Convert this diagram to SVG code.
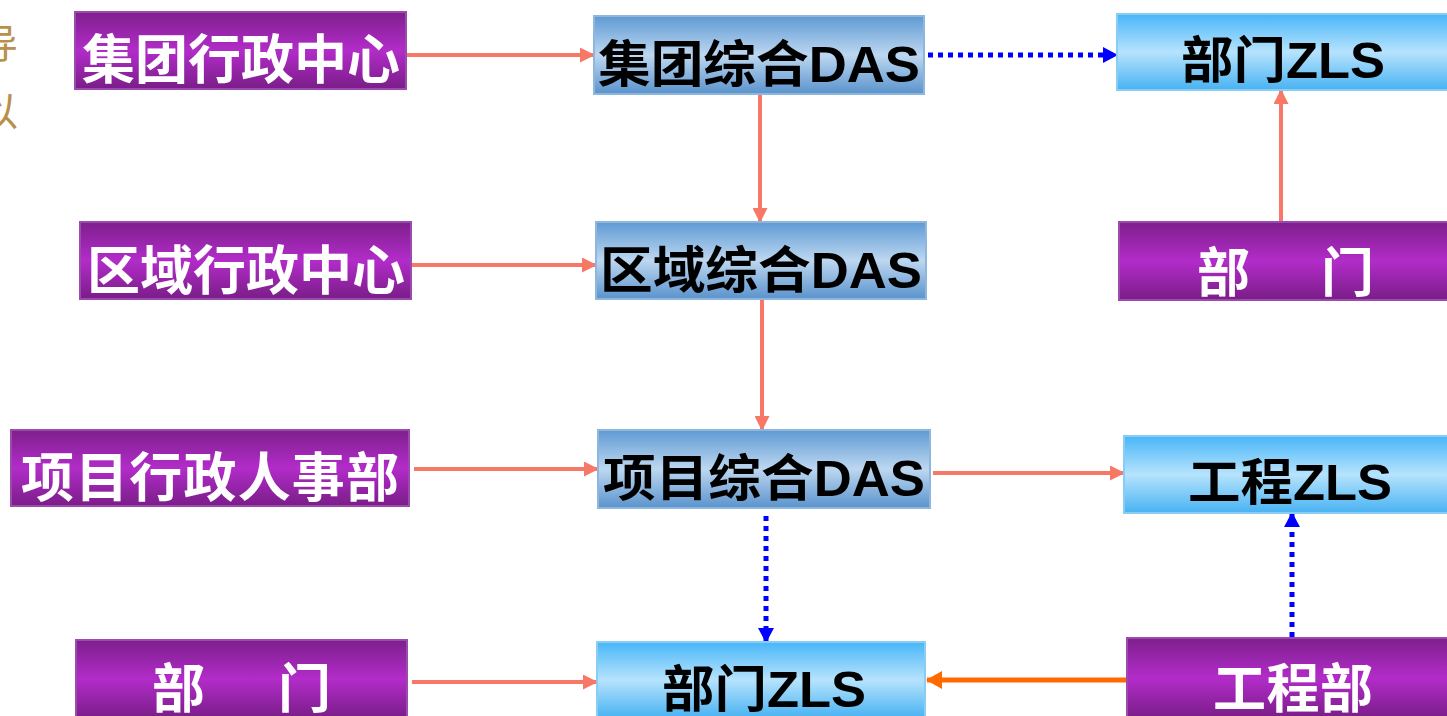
<svg xmlns="http://www.w3.org/2000/svg" width="1447" height="716" viewBox="0 0 1447 716">
<defs>
<linearGradient id="gp" x1="0" y1="0" x2="0" y2="1">
<stop offset="0" stop-color="#7E1F8C"/><stop offset="0.5" stop-color="#B22CC9"/><stop offset="1" stop-color="#7A1D88"/>
</linearGradient>
<linearGradient id="gb" x1="0" y1="0" x2="0" y2="1">
<stop offset="0" stop-color="#5E9AD4"/><stop offset="0.5" stop-color="#BDD7F0"/><stop offset="1" stop-color="#5A93CC"/>
</linearGradient>
<linearGradient id="gs" x1="0" y1="0" x2="0" y2="1">
<stop offset="0" stop-color="#48B6F8"/><stop offset="0.5" stop-color="#B6E3FD"/><stop offset="1" stop-color="#48B2F2"/>
</linearGradient>
<marker id="ar" markerWidth="15" markerHeight="15" refX="14" refY="7.5" orient="auto" markerUnits="userSpaceOnUse" viewBox="0 0 15 15">
<path d="M0,0 L15,7.5 L0,15 Z" fill="#F87868"/>
</marker>
<marker id="ab" markerWidth="15" markerHeight="16" refX="14" refY="8" orient="auto" markerUnits="userSpaceOnUse" viewBox="0 0 15 16">
<path d="M0,0 L15,8 L0,16 Z" fill="#0000FF"/>
</marker>
<marker id="ao" markerWidth="16" markerHeight="18" refX="15" refY="9" orient="auto" markerUnits="userSpaceOnUse" viewBox="0 0 16 18">
<path d="M0,0 L16,9 L0,18 Z" fill="#FF6A00"/>
</marker>
</defs>
<style>
.p{fill:url(#gp);stroke:#9B4BAE;stroke-width:2}
.b{fill:url(#gb);stroke:#8FB6DD;stroke-width:2}
.s{fill:url(#gs);stroke:#8ACDF2;stroke-width:2}
.tw{font-family:"Noto Sans CJK SC","Liberation Sans",sans-serif;font-weight:bold;font-size:53px;fill:#FFFFFF}
.tk{font-family:"Liberation Sans","Noto Sans CJK SC",sans-serif;font-weight:bold;font-size:50px;fill:#000000}
.r{stroke:#F87868;stroke-width:4;fill:none}
.d{stroke:#0000FF;stroke-width:5;stroke-dasharray:5 5;fill:none}
.side{font-family:"Noto Sans CJK SC",sans-serif;font-size:40px;fill:#B8904A}
</style>
<g id="side">
<text class="side" x="-22" y="58">导</text>
<text class="side" x="-22" y="126">以</text>
</g>
<g id="connectors">
<line class="r" x1="407" y1="55" x2="594" y2="55" marker-end="url(#ar)"/>
<line class="d" x1="928" y1="55" x2="1117" y2="55" marker-end="url(#ab)"/>
<line class="r" x1="760" y1="95" x2="760" y2="222" marker-end="url(#ar)"/>
<line class="r" x1="1281" y1="221" x2="1281" y2="90" marker-end="url(#ar)"/>
<line class="r" x1="412" y1="265" x2="596" y2="265" marker-end="url(#ar)"/>
<line class="r" x1="762" y1="300" x2="762" y2="430" marker-end="url(#ar)"/>
<line class="r" x1="414" y1="469" x2="598" y2="469" marker-end="url(#ar)"/>
<line class="r" x1="933" y1="473" x2="1124" y2="473" marker-end="url(#ar)"/>
<line class="d" x1="766" y1="516" x2="766" y2="642" marker-end="url(#ab)"/>
<line class="d" x1="1292" y1="637" x2="1292" y2="513" marker-end="url(#ab)"/>
<line class="r" x1="412" y1="682" x2="597" y2="682" marker-end="url(#ar)"/>
<line x1="1126" y1="680" x2="927" y2="680" stroke="#FF6A00" stroke-width="5" marker-end="url(#ao)"/>
</g>
<g id="n1"><rect class="p" x="75" y="12" width="331" height="77"/><text class="tw" x="241" y="79" text-anchor="middle">集团行政中心</text></g>
<g id="n2"><rect class="b" x="594" y="16" width="330" height="78"/><text class="tk" x="759" y="82" text-anchor="middle" textLength="322" lengthAdjust="spacingAndGlyphs">集团综合DAS</text></g>
<g id="n3"><rect class="s" x="1117" y="14" width="332" height="76"/><text class="tk" x="1283" y="78" text-anchor="middle" textLength="204" lengthAdjust="spacingAndGlyphs">部门ZLS</text></g>
<g id="n4"><rect class="p" x="80" y="222" width="331" height="77"/><text class="tw" x="246" y="290" text-anchor="middle">区域行政中心</text></g>
<g id="n5"><rect class="b" x="596" y="222" width="330" height="77"/><text class="tk" x="761" y="288" text-anchor="middle" textLength="322" lengthAdjust="spacingAndGlyphs">区域综合DAS</text></g>
<g id="n6"><rect class="p" x="1119" y="222" width="330" height="78"/><text class="tw" x="1197" y="292">部</text><text class="tw" x="1321" y="292">门</text></g>
<g id="n7"><rect class="p" x="11" y="430" width="398" height="76"/><text class="tw" x="210" y="497" text-anchor="middle" textLength="378">项目行政人事部</text></g>
<g id="n8"><rect class="b" x="598" y="430" width="332" height="78"/><text class="tk" x="764" y="496" text-anchor="middle" textLength="322" lengthAdjust="spacingAndGlyphs">项目综合DAS</text></g>
<g id="n9"><rect class="s" x="1124" y="436" width="325" height="77"/><text class="tk" x="1290" y="500" text-anchor="middle" textLength="204" lengthAdjust="spacingAndGlyphs">工程ZLS</text></g>
<g id="n10"><rect class="p" x="76" y="640" width="331" height="78"/><text class="tw" x="152" y="708">部</text><text class="tw" x="278" y="708">门</text></g>
<g id="n11"><rect class="s" x="597" y="642" width="328" height="76"/><text class="tk" x="764" y="707" text-anchor="middle" textLength="204" lengthAdjust="spacingAndGlyphs">部门ZLS</text></g>
<g id="n12"><rect class="p" x="1127" y="638" width="322" height="80"/><text class="tw" x="1293" y="708" text-anchor="middle" textLength="160">工程部</text></g>
</svg>
